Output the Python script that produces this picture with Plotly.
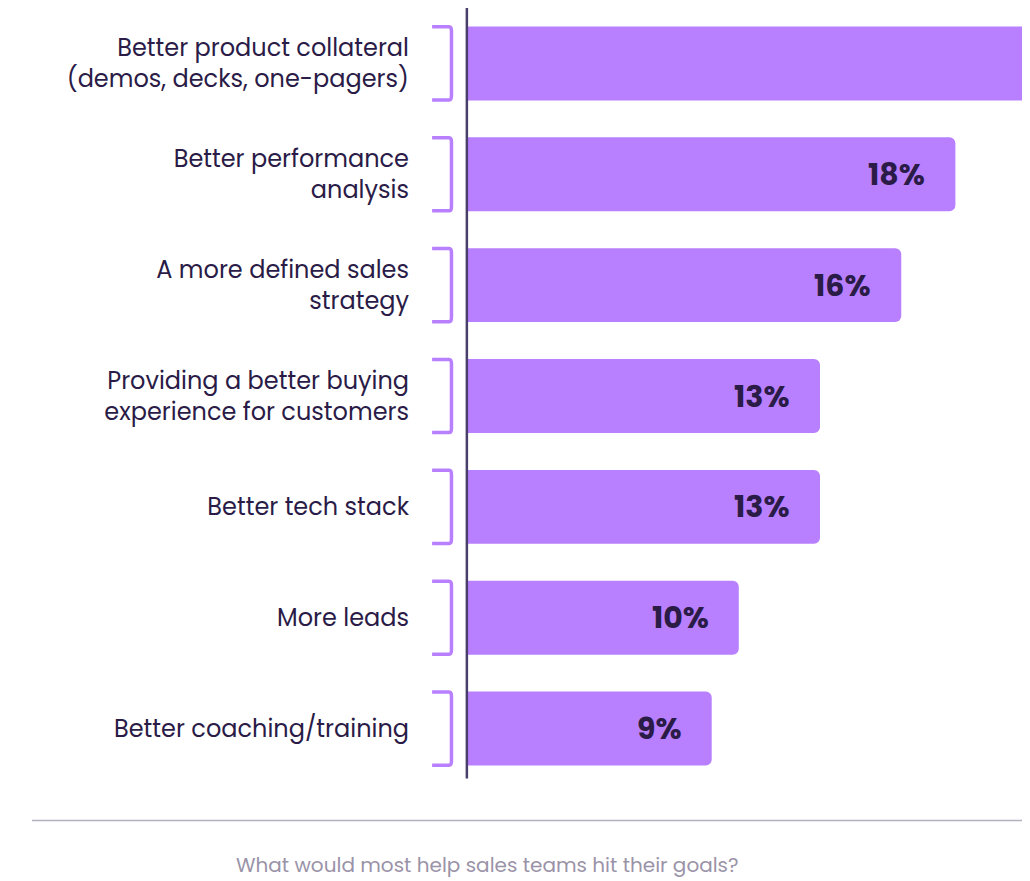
import plotly.graph_objects as go

categories = ["Better product collateral<br>(demos, decks, one-pagers)",
              "Better performance<br>analysis",
              "A more defined sales<br>strategy",
              "Providing a better buying<br>experience for customers",
              "Better tech stack",
              "More leads",
              "Better coaching/training"]
values = [21, 18, 16, 13, 13, 10, 9]
labels = ["", "18%", "16%", "13%", "13%", "10%", "9%"]
caption = "What would most help sales teams hit their goals?"

BAR = "#B880FF"
INK = "#2A1B47"
FONT = "Poppins, Inter, Lato, sans-serif"

fig = go.Figure(go.Bar(
    y=categories, x=values, orientation="h",
    marker=dict(color=BAR, cornerradius=6, line=dict(width=0)),
    hoverinfo="skip"))

for c, v, t in zip(categories, values, labels):
    if t:
        fig.add_annotation(x=v, y=c, text=t, showarrow=False, xanchor="right",
                           xshift=-28, font=dict(size=30, color=INK, family=FONT, weight="bold"))

for i in range(len(categories)):
    fig.add_shape(type="path", xref="paper", yref="y",
                  path=f"M -0.063 {i-0.33} L -0.033 {i-0.33} Q -0.029 {i-0.33} -0.029 {i-0.29} "
                       f"L -0.029 {i+0.29} Q -0.029 {i+0.33} -0.033 {i+0.33} L -0.063 {i+0.33}",
                  line=dict(color=BAR, width=3.5))

fig.add_shape(type="line", xref="paper", yref="paper", x0=-0.002, x1=-0.002, y0=0.007, y1=1.0,
              line=dict(color="#4A3F6B", width=2.5))
fig.add_shape(type="line", xref="paper", yref="paper", x0=-0.765, x1=1.0, y0=-0.047, y1=-0.047,
              line=dict(color="#B5B0BE", width=1.5))
fig.add_annotation(xref="paper", yref="paper", x=0.035, y=-0.105, text=caption, showarrow=False,
                   xanchor="center", yanchor="middle",
                   font=dict(size=20, color="#9A93A8", family=FONT))

fig.update_layout(
    width=1030, height=881, margin=dict(l=460, r=0, t=0, b=105),
    paper_bgcolor="white", plot_bgcolor="white", bargap=0.333, showlegend=False,
    xaxis=dict(range=[0, 21.05], visible=False),
    yaxis=dict(autorange="reversed", range=None, showgrid=False, showline=False, zeroline=False,
               ticks="", ticklabelstandoff=58,
               tickfont=dict(size=24, color=INK, family=FONT)),
)
fig.update_yaxes(range=[6.5, -0.5], autorange=False)
fig.write_html("out.html")
